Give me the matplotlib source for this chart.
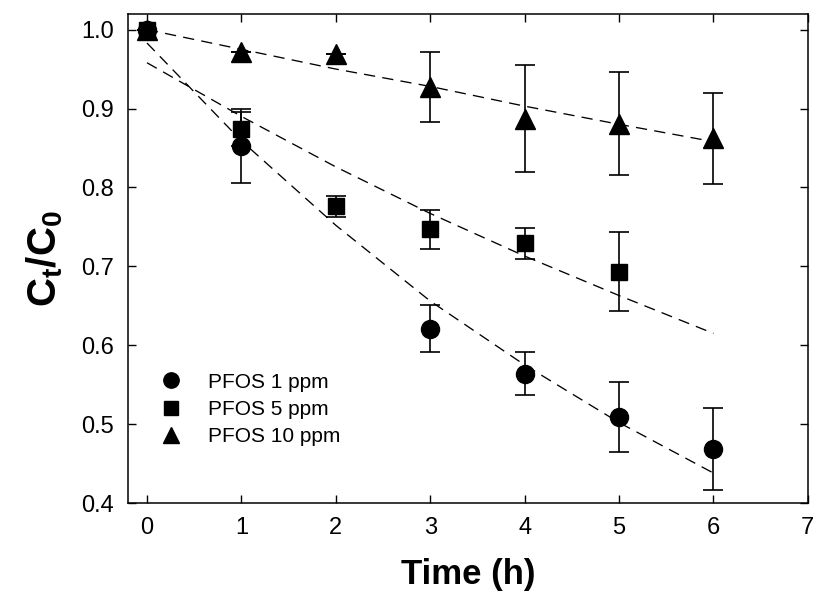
import numpy as np
import matplotlib
matplotlib.use("Agg")
import matplotlib.pyplot as plt

plt.rcParams['font.family'] = ['Liberation Sans', 'DejaVu Sans']
plt.rcParams['mathtext.fontset'] = 'custom'
plt.rcParams['mathtext.rm'] = 'Liberation Sans'
plt.rcParams['mathtext.bf'] = 'Liberation Sans:bold'

# measured points (time in h, Ct/C0, error)
t_1ppm = [0, 1, 3, 4, 5, 6]
c_1ppm = [1.0, 0.852, 0.621, 0.564, 0.509, 0.468]
e_1ppm = [0, 0.047, 0.030, 0.027, 0.044, 0.052]

t_5ppm = [0, 1, 2, 3, 4, 5]
c_5ppm = [1.0, 0.874, 0.776, 0.747, 0.729, 0.693]
e_5ppm = [0, 0.022, 0.013, 0.025, 0.020, 0.050]

t_10ppm = [0, 1, 2, 3, 4, 5, 6]
c_10ppm = [1.0, 0.972, 0.969, 0.927, 0.887, 0.881, 0.862]
e_10ppm = [0, 0, 0, 0.044, 0.068, 0.065, 0.058]

# dashed fit curves
t_fit = [0, 1, 2, 3, 4, 5, 6]
fit_1ppm = [0.983, 0.859, 0.752, 0.656, 0.575, 0.502, 0.438]
fit_5ppm = [0.958, 0.890, 0.826, 0.767, 0.713, 0.663, 0.615]
fit_10ppm = [1.0, 0.975, 0.950, 0.928, 0.903, 0.880, 0.858]

labels = ['PFOS 1 ppm', 'PFOS 5 ppm', 'PFOS 10 ppm']

fig = plt.figure(figsize=(8.16, 6.01), dpi=100)
ax = fig.add_axes([0.157, 0.163, 0.833, 0.814])

dash = (0, (8.5, 5.5))
for y in [fit_1ppm, fit_5ppm, fit_10ppm]:
    ax.plot(t_fit, y, color='black', lw=0.95, linestyle=dash, zorder=2)

ebkw = dict(color='black', ecolor='black', elinewidth=1.2, capsize=7.5,
            capthick=1.2, linestyle='none', zorder=3)
h1 = ax.errorbar(t_1ppm, c_1ppm, yerr=e_1ppm, marker='o', ms=13, **ebkw)
h2 = ax.errorbar(t_5ppm, c_5ppm, yerr=e_5ppm, marker='s', ms=12, **ebkw)
h3 = ax.errorbar(t_10ppm, c_10ppm, yerr=e_10ppm, marker='^', ms=14, **ebkw)

ax.set_xlim(-0.2, 7)
ax.set_ylim(0.4, 1.02)
ax.set_xticks(range(0, 8))
ax.set_yticks(np.arange(0.4, 1.01, 0.1))
ax.set_yticklabels(['0.4', '0.5', '0.6', '0.7', '0.8', '0.9', '1.0'])
ax.tick_params(direction='in', length=6, width=1, top=True, right=True,
               labelsize=17, pad=10)
for s in ax.spines.values():
    s.set_linewidth(1.1)

ax.set_xlabel('Time (h)', fontsize=25, fontweight='bold', labelpad=14)
ax.set_ylabel(r'$\mathbf{C_t/C_0}$', fontsize=29, labelpad=12)

leg = ax.legend([h1[0], h2[0], h3[0]], labels, loc='upper left',
                bbox_to_anchor=(0.02, 0.305), frameon=False, fontsize=15,
                handlelength=1.0, handletextpad=1.3, labelspacing=0.4,
                markerscale=0.85)

fig.savefig('out.png', dpi=100)
